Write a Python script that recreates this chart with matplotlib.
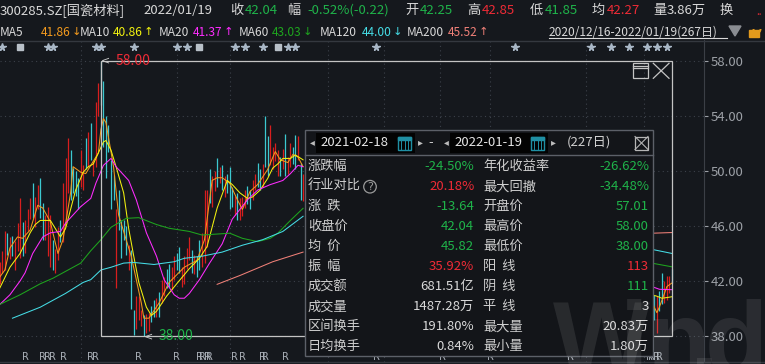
import numpy as np
import matplotlib
matplotlib.use("Agg")
import matplotlib.pyplot as plt
from matplotlib.patches import Rectangle, Circle, Arc, Polygon

plt.rcParams["font.family"] = ["Noto Sans CJK SC", "DejaVu Sans"]

# ---------------- data ----------------
stock_name = "300285.SZ[国瓷材料]"
quote_date = "2022/01/19"
quote_chg = -0.22
quote_pct = -0.52
quote_avg = 42.27
quote_vol = "3.86万"
range_text = "2020/12/16-2022/01/19(267日)"

# trading-day index 0 = 2020-12-16, last = 266 (2022-01-19)
# candles (open, high, low, close) for days 0..120
candles_a = [
    (42.2, 43.4, 41.8, 43.1), (43.1, 44.2, 42.6, 43.8), (43.0, 45.6, 42.8, 45.2), (45.2, 45.5, 43.9, 44.3),
    (44.3, 45.2, 43.6, 44.9), (44.9, 45.3, 43.8, 44.0), (43.2, 44.9, 42.8, 44.6), (44.6, 46.2, 44.2, 45.8),
    (44.0, 48.0, 43.7, 47.6), (46.0, 46.3, 43.8, 44.2), (44.2, 46.4, 44.0, 46.0), (46.0, 47.2, 45.6, 46.9),
    (46.9, 48.0, 46.5, 47.7), (48.8, 49.1, 46.6, 47.0), (46.0, 48.1, 45.9, 47.9), (47.9, 49.0, 47.2, 48.6),
    (49.2, 49.5, 46.6, 47.1), (47.5, 47.7, 45.0, 45.4), (45.4, 46.8, 45.0, 46.5), (44.5, 47.4, 43.8, 45.2),
    (44.0, 46.8, 43.0, 44.6), (45.0, 45.0, 42.8, 43.0), (43.2, 44.3, 42.6, 43.9), (43.6, 45.9, 43.5, 45.5),
    (45.5, 46.4, 44.8, 45.0), (45.0, 49.1, 44.8, 48.8), (47.0, 50.9, 46.2, 50.4), (49.0, 52.4, 48.4, 52.0),
    (51.5, 51.5, 47.9, 48.6), (50.0, 50.2, 48.4, 49.0), (49.4, 50.0, 48.2, 48.6), (49.5, 49.5, 47.2, 47.8),
    (49.0, 51.5, 48.8, 51.2), (48.8, 50.4, 48.6, 50.1), (52.0, 52.4, 50.1, 50.6), (50.6, 52.85, 50.3, 52.5),
    (53.2, 53.5, 50.8, 51.3), (49.8, 50.7, 49.6, 50.5), (50.5, 55.0, 50.3, 54.6), (54.6, 56.4, 54.0, 55.9),
    (57.01, 58.0, 54.8, 55.3), (56.2, 56.5, 51.75, 52.2), (53.6, 54.0, 49.5, 49.9), (53.0, 53.3, 51.4, 51.7),
    (50.6, 50.8, 47.2, 47.5), (49.4, 49.7, 47.9, 48.2), (42.5, 47.2, 41.5, 46.6), (48.2, 48.6, 45.7, 46.0),
    (46.2, 46.4, 43.7, 44.0), (46.2, 46.4, 45.0, 45.2), (45.6, 46.0, 43.9, 44.2), (43.0, 44.6, 42.8, 44.3),
    (44.2, 44.25, 40.0, 40.4), (39.9, 39.9, 38.05, 38.5), (38.7, 40.9, 38.5, 40.6), (39.3, 40.9, 39.2, 40.5),
    (38.9, 39.9, 38.7, 39.7), (39.4, 39.5, 38.0, 38.4), (38.4, 39.6, 38.2, 39.3), (38.6, 39.7, 38.4, 39.5),
    (39.5, 40.2, 39.0, 39.4), (40.4, 40.6, 39.4, 39.6), (39.6, 40.8, 39.4, 40.6), (41.0, 41.2, 39.4, 39.8),
    (40.6, 42.1, 40.4, 41.9), (41.0, 42.3, 40.9, 42.1), (42.6, 42.9, 41.5, 41.7), (43.0, 43.2, 41.6, 41.9),
    (41.5, 43.0, 41.35, 42.8), (42.3, 43.8, 42.1, 43.6), (43.6, 44.0, 42.8, 43.2), (44.2, 44.5, 42.6, 42.9),
    (41.8, 43.0, 41.6, 42.8), (42.0, 43.8, 41.8, 43.5), (43.5, 44.4, 42.9, 44.0), (43.6, 45.2, 43.5, 45.0),
    (44.0, 44.25, 42.6, 42.9), (42.9, 43.9, 42.5, 43.6), (43.6, 43.8, 42.3, 42.6), (44.6, 45.0, 42.8, 43.1),
    (43.1, 45.5, 43.0, 45.2), (43.5, 48.6, 43.3, 48.3), (45.0, 48.6, 44.5, 48.2), (49.6, 50.1, 47.7, 48.0),
    (47.6, 49.6, 47.4, 49.3), (49.3, 50.0, 48.5, 49.6), (50.5, 50.9, 48.8, 49.2), (49.2, 50.3, 49.1, 50.0),
    (50.0, 50.4, 48.6, 48.9), (48.3, 49.6, 48.1, 49.4), (49.4, 49.8, 48.4, 48.7), (50.0, 50.3, 47.2, 47.6),
    (48.6, 48.85, 47.4, 47.7), (47.7, 48.2, 46.8, 47.9), (48.2, 48.4, 46.4, 46.7), (46.6, 48.0, 46.4, 47.8),
    (46.9, 48.1, 46.7, 47.9), (47.9, 48.6, 47.3, 48.4), (48.4, 48.9, 47.6, 48.0), (48.4, 48.6, 47.2, 47.5),
    (48.0, 49.3, 47.9, 49.1), (49.1, 49.8, 48.6, 49.5), (50.3, 50.6, 48.8, 49.1), (49.8, 50.1, 48.6, 48.9),
    (49.0, 50.5, 48.8, 50.3), (53.2, 54.0, 50.3, 50.8), (52.0, 52.5, 49.6, 50.0), (50.5, 53.3, 50.4, 52.9),
    (50.3, 51.75, 50.1, 51.5), (51.2, 52.0, 50.7, 51.8), (49.8, 51.5, 49.6, 51.3), (51.0, 51.0, 49.6, 49.9),
    (50.2, 51.6, 50.1, 51.4), (52.4, 52.7, 49.6, 50.0), (50.0, 51.0, 49.8, 50.6), (50.4, 52.0, 50.3, 51.8),
    (51.6, 51.75, 50.5, 50.8), (52.3, 52.6, 50.1, 50.6), (51.0, 52.5, 50.8, 52.2), (50.4, 50.6, 47.9, 48.3),
    (48.3, 49.8, 47.8, 49.5),
]
# candles for days 258..266 (right of the info panel)
candles_b_start = 258
candles_b = [
    (40.8, 41.6, 39.8, 40.2), (40.2, 41.0, 39.2, 39.5), (38.6, 40.9, 38.2, 40.6), (40.6, 41.3, 39.8, 40.2),
    (42.0, 42.56, 40.3, 40.7), (40.6, 42.0, 40.4, 41.8), (41.2, 42.4, 40.6, 42.2), (41.6, 42.4, 41.1, 42.3),
    (42.25, 42.85, 41.85, 42.04),
]

# moving averages (day index, value)
ma5_days = [0, 2, 4, 7, 9, 12, 15, 17, 20, 21, 23, 25, 28, 29, 32, 34, 37, 39, 40, 41, 42, 45, 47, 52, 56, 57,
            59, 63, 67, 73, 78, 81, 84, 86, 88, 91, 94, 96, 99, 102, 106, 109, 111, 114, 116, 118, 120,
            258, 260, 261, 263, 264, 266]
ma5_vals = [42.3, 42.8, 44.4, 45.2, 45.1, 45.7, 47.5, 47.3, 46.3, 45.5, 44.0, 45.0, 48.4, 50.3, 49.9, 49.8, 50.7,
            51.3, 53.0, 53.8, 53.5, 50.3, 46.8, 43.8, 40.4, 39.3, 39.3, 40.4, 41.9, 43.0, 43.5, 45.0, 49.3, 49.5,
            49.5, 49.1, 47.9, 47.2, 48.5, 49.0, 50.1, 51.4, 50.8, 50.6, 51.2, 51.0, 50.3,
            40.5, 39.7, 40.1, 41.1, 41.6, 41.86]
ma10_days = [0, 4, 8, 12, 14, 16, 20, 22, 24, 26, 28, 30, 33, 35, 37, 39, 41, 42, 44, 46, 49, 51, 53, 55, 58,
             60, 62, 66, 70, 75, 79, 82, 86, 90, 92, 95, 98, 100, 103, 106, 108, 110, 112, 115, 117, 120,
             258, 260, 262, 264, 266]
ma10_vals = [41.5, 43.0, 44.0, 45.5, 46.1, 46.4, 46.4, 45.8, 45.2, 45.8, 47.2, 48.6, 49.9, 50.3, 50.5, 51.3,
             52.1, 52.2, 51.5, 50.3, 48.4, 45.8, 43.8, 41.9, 40.1, 39.5, 39.8, 40.9, 41.8, 42.9, 43.65, 44.5,
             47.3, 49.3, 49.0, 48.4, 48.0, 48.1, 48.6, 49.45, 50.2, 50.5, 50.9, 50.9, 51.15, 50.8,
             41.0, 40.9, 40.75, 40.8, 40.86]
ma20_days = [0, 4, 8, 10, 13, 17, 20, 24, 26, 32, 36, 38, 41, 44, 46, 51, 54, 58, 62, 65, 69, 71, 73, 75, 79,
             83, 88, 92, 98, 102, 107, 112, 115, 118, 120, 258, 261, 266]
ma20_vals = [40.3, 41.0, 42.0, 42.6, 44.0, 45.2, 45.5, 45.6, 46.2, 47.4, 48.0, 49.1, 50.4, 50.9, 50.3, 49.3,
             47.9, 45.5, 43.8, 42.1, 41.0, 40.75, 40.75, 41.1, 42.1, 43.3, 44.7, 46.5, 47.9, 48.6, 49.0, 49.3,
             49.8, 50.4, 50.3, 41.6, 41.4, 41.37]
ma60_days = [0, 8, 16, 21, 27, 32, 36, 40, 44, 50, 55, 62, 67, 75, 80, 91, 96, 102, 107, 110, 115, 120, 258, 266]
ma60_vals = [40.3, 41.0, 41.8, 42.2, 42.8, 43.3, 44.2, 45.0, 45.9, 46.55, 46.6, 46.1, 45.83, 45.6, 45.34,
             45.47, 45.1, 44.86, 45.1, 45.47, 46.4, 47.28, 43.3, 43.03]
ma120_days = [5, 16, 26, 33, 36, 40, 44, 49, 53, 61, 69, 73, 80, 88, 96, 104, 112, 120, 258, 266]
ma120_vals = [39.3, 40.1, 41.1, 41.9, 42.1, 42.8, 43.0, 43.3, 43.35, 43.2, 43.4, 43.65, 43.8, 44.1, 44.6,
              45.0, 45.6, 46.7, 44.3, 44.0]
ma200_days = [86, 95, 108, 120, 258, 266]
ma200_vals = [41.76, 42.4, 43.4, 44.1, 45.47, 45.52]
ma_trend = ["↓", "↑", "↑", "↓", "↓", "↑"]

month_starts = [32, 70, 91, 130, 152, 174, 194, 232, 255]
price_ticks = [38, 42, 46, 50, 54, 58]
star_days = [1, 19, 21, 38, 40, 53, 70, 74, 93, 97, 104, 114, 117, 149, 204, 234, 242, 249, 256, 260, 264]
flag_days = [8, 79, 110]
r_days = [10, 17, 19, 21, 25, 36, 38, 55, 70, 79, 80, 82, 83, 93, 96, 104, 105, 113, 149, 175, 194, 226,
          257, 258, 260, 261]

sel_start, sel_end = 40, 266
sel_from, sel_to, sel_days = "2021-02-18", "2022-01-19", 227

left_labels = ["涨跌幅", "行业对比", "涨  跌", "收盘价", "均  价", "振  幅", "成交额", "成交量", "区间换手", "日均换手"]
left_values = ["-24.50%", "20.18%", "-13.64", "42.04", "45.82", "35.92%", "681.51亿", "1487.28万", "191.80%", "0.84%"]
left_kind = ["dn", "up", "dn", "dn", "dn", "up", "n", "n", "n", "n"]
right_labels = ["年化收益率", "最大回撤", "开盘价", "最高价", "最低价", "阳  线", "阴  线", "平  线", "最大量", "最小量"]
right_values = ["-26.62%", "-34.48%", "57.01", "58.00", "38.00", "113", "111", "3", "20.83万", "1.80万"]
right_kind = ["dn", "dn", "dn", "dn", "dn", "up", "dn", "n", "n", "n"]

# ---------------- style ----------------
W, H = 765, 364
BG = "#15181d"
GRID = "#3c414a"
RED = "#ee2b36"
GREEN = "#1fb34a"
WHITE = "#d9d9d9"
UP = "#d81e1e"
DN = "#3cc8d0"
kind_color = {"up": RED, "dn": GREEN, "n": WHITE}

ma_lines = [
    ("MA5", ma5_days, ma5_vals, "#f39a1e"),
    ("MA10", ma10_days, ma10_vals, "#f2f20f"),
    ("MA20", ma20_days, ma20_vals, "#ff2cff"),
    ("MA60", ma60_days, ma60_vals, "#1ea51e"),
    ("MA120", ma120_days, ma120_vals, "#45dde6"),
    ("MA200", ma200_days, ma200_vals, "#f08078"),
]

fig = plt.figure(figsize=(W / 100, H / 100), dpi=100)
fig.patch.set_facecolor(BG)


def box(x0, y0, x1, y1):
    return [x0 / W, 1 - y1 / H, (x1 - x0) / W, (y1 - y0) / H]


# ---------------- price chart ----------------
ax = fig.add_axes(box(0, 40, 704, 362))
ax.set_facecolor(BG)
ax.set_xlim(0.07, 278.66)
ax.set_ylim(36.12, 59.50)

for p in price_ticks:
    ax.axhline(p, color=GRID, lw=0.8, ls=(0, (1, 3)), zorder=1)
for d in month_starts:
    ax.axvline(d, color=GRID, lw=0.8, ls=(0, (1, 3)), zorder=1)

ax.yaxis.tick_right()
ax.set_yticks(price_ticks)
ax.set_yticklabels([f"{p:.2f}" for p in price_ticks])
ax.tick_params(axis="y", colors="#9da1a7", labelsize=9.5, length=3, width=0.8, pad=2)
ax.set_xticks([])
for s in ["top", "bottom", "left"]:
    ax.spines[s].set_visible(False)
ax.spines["right"].set_color("#3b3f46")

all_h, all_l, all_d = [], [], []
for start, rows in ((0, candles_a), (candles_b_start, candles_b)):
    arr = np.array(rows)
    days = np.arange(start, start + len(rows))
    o, h, l, c = arr.T
    col = np.where(c >= o, UP, DN)
    ax.vlines(days, l, h, colors=col, lw=0.9, zorder=3)
    all_d.extend(days)
    all_h.extend(h)
    all_l.extend(l)
all_d = np.array(all_d)
all_h = np.array(all_h)
all_l = np.array(all_l)

for name, days, vals, col in ma_lines:
    d = np.array(days, float)
    v = np.array(vals, float)
    cut = np.where(np.diff(d) > 30)[0] + 1
    for dd, vv in zip(np.split(d, cut), np.split(v, cut)):
        ax.plot(dd, vv, color=col, lw=0.75, zorder=4)

# selection box with high / low markers
in_sel = (all_d >= sel_start) & (all_d <= sel_end)
hi_i = np.argmax(np.where(in_sel, all_h, -1))
lo_i = np.argmin(np.where(in_sel, all_l, 1e9))
sel_hi, sel_lo = all_h[hi_i], all_l[lo_i]
ax.add_patch(Rectangle((sel_start, sel_lo), sel_end - sel_start, sel_hi - sel_lo,
                       fill=False, ec="#c4c4c4", lw=0.9, zorder=6))
for day, price, col in ((all_d[hi_i], sel_hi, RED), (all_d[lo_i], sel_lo, GREEN)):
    ax.annotate("<", (day, price), xytext=(0, 0), textcoords="offset points", color="#c8c8c8",
                fontsize=8, ha="left", va="center", zorder=7, family="DejaVu Sans")
    ax.annotate(f"{price:.2f}", (day, price), xytext=(10.5, 0), textcoords="offset points", color=col,
                fontsize=10, ha="left", va="center", zorder=7)

xt = ax.get_xaxis_transform()
ax.plot(star_days, [0.979] * len(star_days), ls="none", marker="*", ms=5.5, color="#a9b7c6",
        transform=xt, zorder=5, clip_on=False)
ax.plot(flag_days, [0.979] * len(flag_days), ls="none", marker="s", ms=4, color="#b8c0c8",
        transform=xt, zorder=5, clip_on=False)
for d in r_days:
    ax.text(d, 0.017, "R", transform=xt, color="#aab0b8", fontsize=7, ha="center", va="center",
            zorder=5, family="DejaVu Sans")

# ---------------- overlay (header, panel) ----------------
ov = fig.add_axes([0, 0, 1, 1])
ov.set_xlim(0, W)
ov.set_ylim(H, 0)
ov.axis("off")
ov.set_zorder(5)
ov.patch.set_visible(False)


def t(x, y, s, c=WHITE, ha="left", fs=9.5, **kw):
    ov.text(x, y, s, color=c, ha=ha, va="center", fontsize=fs, **kw)


ov.plot([0, W], [40.5, 40.5], color="#34383f", lw=1)
ov.plot([0, W], [362, 362], color="#34383f", lw=1)

last = candles_b[-1]
row1 = [
    (0, stock_name, WHITE), (143, quote_date, WHITE), (230, "收", WHITE), (245, f"{last[3]:.2f}", GREEN),
    (287, "幅", WHITE), (307, f"{quote_pct:.2f}%({quote_chg:.2f})", GREEN),
    (405, "开", WHITE), (420, f"{last[0]:.2f}", GREEN), (467, "高", WHITE), (482, f"{last[1]:.2f}", RED),
    (530, "低", WHITE), (545, f"{last[2]:.2f}", GREEN), (592, "均", WHITE), (607, f"{quote_avg:.2f}", RED),
    (653, "量", WHITE), (667, quote_vol, WHITE), (720, "换", WHITE),
]
for x, s, c in row1:
    t(x, 10.5, s, c)
t(756, 12, "..", RED, fs=7)

ma_x = [(0, 41), (80, 113), (159, 193), (239, 272), (320, 362), (407, 448)]
for (lx, vx), (name, days, vals, col), arrow in zip(ma_x, ma_lines, ma_trend):
    t(lx, 32, name, WHITE, fs=8.6)
    t(vx, 32, f"{vals[-1]:.2f}", col, fs=8.6)
    t(vx + 30.5, 32, arrow, col, fs=8.2, family="DejaVu Sans")
t(549, 32, range_text, WHITE, fs=8.6)
ov.plot([549, 727], [38, 38], color=WHITE, lw=0.8)
ov.add_patch(Polygon([[729, 26], [741, 26], [735, 36]], closed=True, color="#8a8d92"))
ov.add_patch(Rectangle((749, 30), 10, 7, color="#e39a1c"))
ov.add_patch(Arc((757, 29), 7, 8, theta1=0, theta2=180, color="#e39a1c", lw=1.4))

# icons top right of selection box
ov.add_patch(Rectangle((633.3, 63.3), 15, 15, fill=False, ec="#c4c4c4", lw=0.9))
ov.plot([633.3, 648.3], [66, 66], color="#c4c4c4", lw=0.9)
ov.plot([633.3, 648.3], [68, 68], color="#c4c4c4", lw=0.9)
ov.plot([653.3, 669], [63.3, 78.3], color="#c4c4c4", lw=0.9)
ov.plot([653.3, 669], [78.3, 63.3], color="#c4c4c4", lw=0.9)

# info panel
px0, py0, px1, py1 = 304.7, 130.3, 652.7, 356
ov.add_patch(Rectangle((px0, py0), px1 - px0, py1 - py0, fc="#131519", ec="#5c6068", lw=1, zorder=2))
ov.plot([px0, px1], [155, 155], color="#5c6068", lw=1, zorder=3)
hy = 142.5
for bx0, bx1, arr_l, arr_r, txt in ((316, 415.5, 312, 420, sel_from), (450.5, 548.5, 446, 553.5, sel_to)):
    ov.add_patch(Rectangle((bx0, 132.5), bx1 - bx0, 20, fc="#030303", ec="none", zorder=3))
    t(bx0 + 4, hy, txt, "#e6e6e6", zorder=4)
    cx = bx1 - 17
    ov.add_patch(Rectangle((cx, 137), 13, 13, fill=False, ec="#1f8fa3", lw=1, zorder=4))
    ov.add_patch(Rectangle((cx, 137), 13, 2.5, color="#1f8fa3", zorder=4))
    for k in (3, 6.5, 10):
        ov.plot([cx + k, cx + k], [141, 149], color="#1f8fa3", lw=0.7, zorder=4)
    t(arr_l, hy, "◂", "#bdbdbd", ha="center", fs=7, zorder=4)
    t(arr_r, hy, "▸", "#bdbdbd", ha="center", fs=7, zorder=4)
t(431, hy, "-", "#cfcfcf", ha="center", zorder=4)
t(566.5, hy, f"({sel_days}日)", "#cfcfcf", zorder=4)
ov.add_patch(Rectangle((635, 136.5), 13, 13, fill=False, ec="#b5b5b5", lw=0.9, zorder=4))
ov.plot([635, 648], [136.5, 149.5], color="#b5b5b5", lw=0.8, zorder=4)
ov.plot([635, 648], [149.5, 136.5], color="#b5b5b5", lw=0.8, zorder=4)

for k in range(len(left_labels)):
    y = 166.7 + 20 * k
    t(308, y, left_labels[k], "#cfcfcf", zorder=4)
    t(474.3, y, left_values[k], kind_color[left_kind[k]], ha="right", zorder=4)
    t(483.3, y, right_labels[k], "#cfcfcf", zorder=4)
    t(649, y, right_values[k], kind_color[right_kind[k]], ha="right", zorder=4)
ov.add_patch(Circle((370, 186.7), 6.3, fill=False, ec="#9a9a9a", lw=0.9, zorder=4))
t(370, 186.7, "?", "#9a9a9a", ha="center", fs=8, zorder=4, family="DejaVu Sans")

# watermark
for x, s in ((553, "W"), (620, "in"), (690, "."), (705, "d")):
    ov.text(x, 374, s, color="#ffffff", alpha=0.09, fontsize=74, fontweight="bold",
            family="Liberation Sans", ha="left", va="baseline", zorder=9)

fig.savefig("out.png", dpi=100, facecolor=BG)
